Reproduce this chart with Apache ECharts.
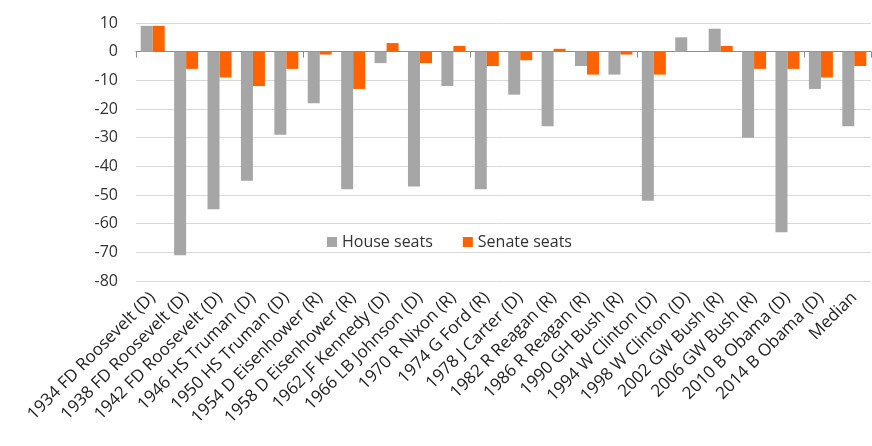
<!DOCTYPE html>
<html>
<head>
<meta charset="utf-8">
<script src="https://cdn.jsdelivr.net/npm/echarts@6/dist/echarts.min.js"></script>
<style>
  html, body { margin: 0; padding: 0; background: #fff; }
  #chart { width: 872px; height: 446px; }
</style>
</head>
<body>
<div id="chart"></div>
<script>
// 选举年份及总统
var elections = ['1934 FD Roosevelt (D)', '1938 FD Roosevelt (D)', '1942 FD Roosevelt (D)', '1946 HS Truman (D)',
    '1950 HS Truman (D)', '1954 D Eisenhower (R)', '1958 D Eisenhower (R)', '1962 JF Kennedy (D)',
    '1966 LB Johnson (D)', '1970 R Nixon (R)', '1974 G Ford (R)', '1978 J Carter (D)', '1982 R Reagan (R)',
    '1986 R Reagan (R)', '1990 GH Bush (R)', '1994 W Clinton (D)', '1998 W Clinton (D)', '2002 GW Bush (R)',
    '2006 GW Bush (R)', '2010 B Obama (D)', '2014 B Obama (D)', 'Median'];
var houseSeats = [9, -71, -55, -45, -29, -18, -48, -4, -47, -12, -48, -15, -26, -5, -8, -52, 5, 8, -30, -63, -13, -26];
var senateSeats = [9, -6, -9, -12, -6, -1, -13, 3, -4, 2, -5, -3, 1, -8, -1, -8, 0, 2, -6, -6, -9, -5];

var font = 'Open Sans';

window.onload = function() {
    var chart = echarts.init(document.getElementById('chart'));
    var option = {
        animation: false,
        textStyle: { fontFamily: font },
        legend: {
            left: 322,
            top: 229,
            itemWidth: 10,
            itemHeight: 10,
            itemGap: 30,
            icon: 'rect',
            textStyle: { fontSize: 16, color: '#333', fontFamily: font },
            data: ['House seats', 'Senate seats']
        },
        grid: { left: 136, right: 1, top: 23, bottom: 165 },
        xAxis: [{
            type: 'category',
            data: elections,
            position: 'bottom',
            axisLine: { onZero: true, lineStyle: { color: '#8c8c8c', width: 1 } },
            axisTick: { show: true, length: 6, lineStyle: { color: '#8c8c8c' } },
            axisLabel: { show: false },
            splitLine: { show: false }
        }, {
            type: 'category',
            data: elections,
            position: 'bottom',
            axisLine: { show: false, onZero: false },
            axisTick: { show: false },
            axisLabel: {
                interval: 0,
                rotate: 45,
                margin: 14,
                fontSize: 17,
                color: '#222',
                fontFamily: font
            }
        }],
        yAxis: {
            type: 'value',
            min: -80,
            max: 10,
            interval: 10,
            axisLine: { show: false },
            axisTick: { show: false },
            axisLabel: { fontSize: 16, color: '#333', margin: 18, fontFamily: font },
            splitLine: { lineStyle: { color: '#d9d9d9', width: 1 } }
        },
        series: [{
            name: 'House seats',
            type: 'bar',
            data: houseSeats,
            barWidth: 12,
            barGap: '0%',
            itemStyle: { color: '#a6a6a6' }
        }, {
            name: 'Senate seats',
            type: 'bar',
            data: senateSeats,
            barWidth: 12,
            itemStyle: { color: '#ff6200' }
        }]
    };
    chart.setOption(option);
};
</script>
</body>
</html>
